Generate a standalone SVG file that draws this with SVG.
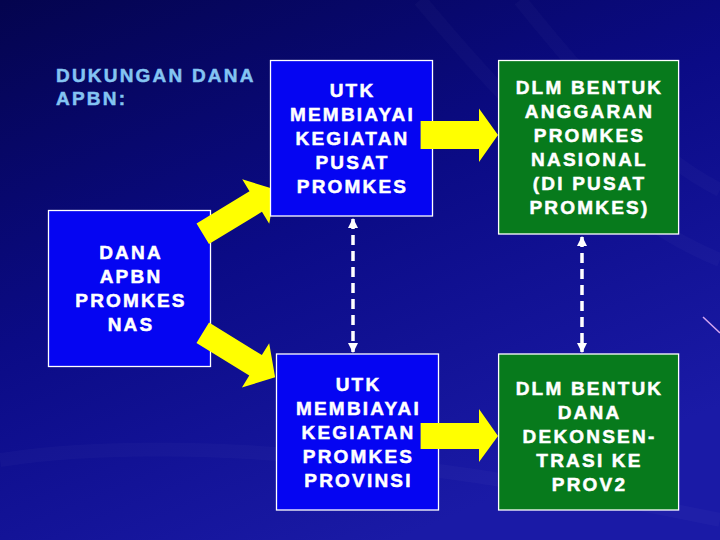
<svg xmlns="http://www.w3.org/2000/svg" width="720" height="540" viewBox="0 0 720 540">
  <defs>
    <linearGradient id="bg" x1="0" y1="0" x2="0.55" y2="1">
      <stop offset="0" stop-color="#04044e"/>
      <stop offset="0.5" stop-color="#0b0b86"/>
      <stop offset="1" stop-color="#1a1aa6"/>
    </linearGradient>
    <marker id="ah" viewBox="0 0 10 10" refX="9" refY="5" markerWidth="3" markerHeight="3" orient="auto-start-reverse" markerUnits="strokeWidth">
      <path d="M0,0 L10,5 L0,10 Z" fill="#ffffff"/>
    </marker>
    <path id="diagArrow" d="M0,-12 L62,-12 L62,-26 L85,0 L62,26 L62,12 L0,12 Z"/>
  </defs>
  <style>
    .blue { fill: #0505f2; stroke: #ffffff; stroke-width: 1.3; }
    .green { fill: #077a1c; stroke: #ffffff; stroke-width: 1.3; }
    .t { font-family: "Liberation Sans", Arial, sans-serif; font-weight: bold; font-size: 19px; letter-spacing: 2.2px; fill: #ffffff; stroke: #ffffff; stroke-width: 0.5; text-anchor: middle; }
    .title { font-family: "Liberation Sans", Arial, sans-serif; font-weight: bold; font-size: 19px; letter-spacing: 2.2px; fill: #84c4f2; stroke: #84c4f2; stroke-width: 0.5; }
    .yarrow { fill: #ffff00; }
    .dash { stroke: #ffffff; stroke-width: 3.5; stroke-dasharray: 10 6; fill: none; }
    .streak { fill: none; stroke: #ffffff; stroke-opacity: 0.025; stroke-width: 14; }
  </style>

  <rect x="0" y="0" width="720" height="540" fill="url(#bg)"/>
  <path class="streak" d="M420,0 C520,120 620,220 720,260"/>
  <path class="streak" d="M520,0 C600,100 660,160 720,190"/>
  <path class="streak" d="M0,460 C200,430 480,470 720,520"/>
  <line x1="703" y1="317" x2="720" y2="333" stroke="#d4a6f0" stroke-width="1.5"/>

  <g id="title">
    <text class="title" x="56" y="82">DUKUNGAN DANA</text>
    <text class="title" x="56" y="105">APBN:</text>
  </g>

  <g id="node-dana-apbn">
    <rect class="blue" x="48.5" y="210.5" width="162" height="156"/>
    <text class="t" x="131" y="259">DANA</text>
    <text class="t" x="131" y="283">APBN</text>
    <text class="t" x="131" y="307">PROMKES</text>
    <text class="t" x="131" y="331">NAS</text>
  </g>

  <g id="connectors">
    <use href="#diagArrow" class="yarrow" transform="translate(202.75,233.75) rotate(-31.3)"/>
    <use href="#diagArrow" class="yarrow" transform="translate(202.75,332.8) rotate(31.6)"/>
  </g>

  <g id="node-utk-pusat">
    <rect class="blue" x="270.5" y="60.5" width="162" height="155.5"/>
    <text class="t" x="352.5" y="97">UTK</text>
    <text class="t" x="352.5" y="121">MEMBIAYAI</text>
    <text class="t" x="352.5" y="145">KEGIATAN</text>
    <text class="t" x="352.5" y="169">PUSAT</text>
    <text class="t" x="352.5" y="193">PROMKES</text>
  </g>

  <g id="node-utk-provinsi">
    <rect class="blue" x="276.5" y="354" width="162" height="156"/>
    <text class="t" x="358.5" y="391">UTK</text>
    <text class="t" x="358.5" y="415">MEMBIAYAI</text>
    <text class="t" x="358.5" y="439">KEGIATAN</text>
    <text class="t" x="358.5" y="463">PROMKES</text>
    <text class="t" x="358.5" y="487">PROVINSI</text>
  </g>

  <g id="connectors-2">
    <path class="yarrow" d="M420.6,121 L479,121 L479,108.5 L498,135 L479,162 L479,149 L420.6,149 Z"/>
    <path class="yarrow" d="M420.6,423 L479,423 L479,409 L498,436 L479,462 L479,449 L420.6,449 Z"/>
    <line class="dash" x1="353" y1="219" x2="353" y2="352" marker-start="url(#ah)" marker-end="url(#ah)"/>
    <line class="dash" x1="582" y1="237" x2="582" y2="352" marker-start="url(#ah)" marker-end="url(#ah)"/>
  </g>

  <g id="node-anggaran-nasional">
    <rect class="green" x="498.6" y="60.5" width="180" height="173.5"/>
    <text class="t" x="589.5" y="94">DLM BENTUK</text>
    <text class="t" x="589.5" y="118">ANGGARAN</text>
    <text class="t" x="589.5" y="142">PROMKES</text>
    <text class="t" x="589.5" y="166">NASIONAL</text>
    <text class="t" x="589.5" y="190">(DI PUSAT</text>
    <text class="t" x="589.5" y="214">PROMKES)</text>
  </g>

  <g id="node-dekonsentrasi">
    <rect class="green" x="498.6" y="354" width="180" height="156"/>
    <text class="t" x="589.5" y="395">DLM BENTUK</text>
    <text class="t" x="589.5" y="419">DANA</text>
    <text class="t" x="589.5" y="443">DEKONSEN-</text>
    <text class="t" x="589.5" y="467">TRASI KE</text>
    <text class="t" x="589.5" y="491">PROV2</text>
  </g>
</svg>
